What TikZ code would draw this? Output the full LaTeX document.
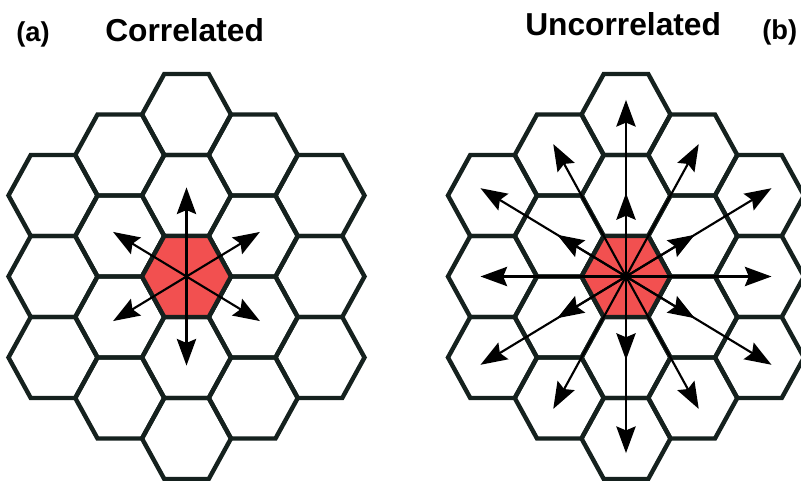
\documentclass[tikz,border=0pt]{standalone}
\usepackage{fontspec}
\setmainfont{Liberation Sans}
\usetikzlibrary{arrows.meta,calc}
\definecolor{hexline}{RGB}{21,33,30}
\definecolor{hotcell}{RGB}{242,80,80}
\tikzset{
  cell/.style={draw=hexline, line width=3.3pt},
  hot/.style={cell, fill=hotcell},
  ray/.style={line width=1.6pt, -{Stealth[length=20pt,width=14.5pt,inset=3pt]}},
  title/.style={font=\bfseries\fontsize{23.8}{28}\selectfont, anchor=base west, inner sep=0pt},
  tag/.style={font=\bfseries\fontsize{20.5}{24}\selectfont, anchor=base west, inner sep=0pt},
}
% one flat-topped cell round a named centre
\newcommand\hexcell[1]{(#1) ++(-44.5,0) -- ++(22.25,-40.5) -- ++(44.5,0) -- ++(22.25,40.5) -- ++(-22.25,40.5) -- ++(-44.5,0) -- cycle}
\begin{document}
\begin{tikzpicture}[x=0.75pt,y=-0.75pt]
\useasboundingbox (0,0) rectangle (801,481);
% two grids of 19 cells
\foreach \g/\gx in {L/186.5,R/626} {
  \foreach \c in {-2,...,2} {
    \pgfmathtruncatemacro\n{4-abs(\c)}
    \foreach \j in {0,...,\n} {
      \pgfmathtruncatemacro\ci{\c+2}
      \pgfmathtruncatemacro\mi{2*\j-\n+4}
      \coordinate (\g\ci\mi) at ({\gx+66.75*\c},{276.5+40.5*(2*\j-\n)});
      \draw[cell] \hexcell{\g\ci\mi};
    }
  }
}
\draw[hot] \hexcell{L24};
\draw[hot] \hexcell{R24};
% correlated: nearest neighbours only
\foreach \t in {L22,L33,L35,L26,L15,L13}
  \draw[ray] (L24) -- ($(L24)!1.1!(\t)$);
% uncorrelated: both rings
\foreach \t in {R22,R33,R35,R26,R15,R13}
  \draw[ray] (R24) -- ($(R24)!1.03!(\t)$);
\foreach \t in {R20,R42,R46,R28,R06,R02,R44,R31,R37,R04,R11,R17}
  \draw[ray] (R24) -- ($(R24)!1.09!(\t)$);
% labels
\node[tag] (tagA) at (16,42) {(a)};
\node[title] (titleA) at (105,42) {Correlated};
\node[title] (titleB) at (525,35.5) {Uncorrelated};
\node[tag] (tagB) at (762,40) {(b)};
\end{tikzpicture}
\end{document}
